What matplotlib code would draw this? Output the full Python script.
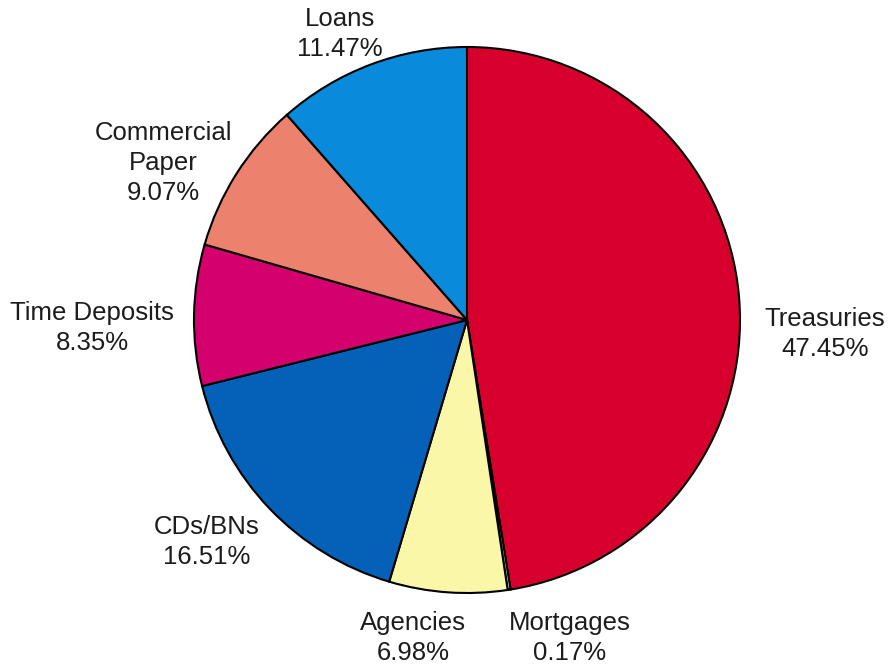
import numpy as np
import matplotlib
matplotlib.use("Agg")
import matplotlib.pyplot as plt

# portfolio composition, clockwise from 12 o'clock
categories = ["Treasuries", "Mortgages", "Agencies", "CDs/BNs",
              "Time Deposits", "Commercial\nPaper", "Loans"]
shares = [47.45, 0.17, 6.98, 16.51, 8.35, 9.07, 11.47]
colors = ["#D7002C", "#E8E8A0", "#FAF7A8", "#0560B8",
          "#D4006E", "#EC826E", "#0A8ADA"]

# label centres in pixel coordinates (x right, y down)
label_xy = [(825, 334), (570, 638), (413, 638), (207, 542),
            (92, 328), (163, 163), (340, 34)]

W, H = 888, 664
fig = plt.figure(figsize=(W / 100, H / 100), dpi=100)
ax = fig.add_axes([0, 0, 1, 1])

cx, cy, r = 467, H - 320, 273
ax.pie(shares, colors=colors, startangle=90, counterclock=False,
       center=(cx, cy), radius=r, frame=True,
       wedgeprops=dict(edgecolor="black", linewidth=1.5))
ax.set_xlim(0, W)
ax.set_ylim(0, H)
ax.axis("off")

for name, val, (x, y) in zip(categories, shares, label_xy):
    ax.text(x, H - y, f"{name}\n{val:.2f}%", ha="center", va="center",
            multialignment="center", fontsize=18.5, color="#1c1c1c",
            family="Liberation Sans", linespacing=1.3)

fig.savefig("out.png", dpi=100)
